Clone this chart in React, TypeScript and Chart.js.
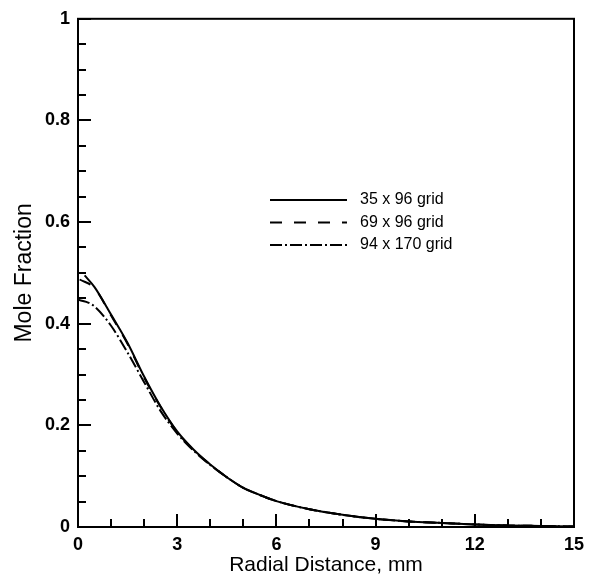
import React, { useEffect, useRef } from "react";
import { Chart, registerables } from "chart.js";

Chart.register(...registerables);

const seriesLabels = ["35 x 96 grid", "69 x 96 grid", "94 x 170 grid"];

const x35 = [0.2, 0.5, 1, 1.5, 2, 2.5, 3, 3.5, 4, 4.5, 5, 5.5, 6, 7, 8, 9, 10, 11, 12, 13, 14, 15];
const y35 = [0.495, 0.472, 0.418, 0.362, 0.296, 0.237, 0.188, 0.152, 0.123, 0.098, 0.077, 0.063, 0.051, 0.035, 0.024, 0.016, 0.011, 0.008, 0.005, 0.003, 0.002, 0.001];

const x69 = [0.05, 0.5, 1, 1.5, 2, 2.5, 3, 3.5, 4, 4.5, 5, 5.5, 6, 7, 8, 9, 10, 11, 12, 13, 14, 15];
const y69 = [0.487, 0.47, 0.416, 0.36, 0.294, 0.236, 0.187, 0.151, 0.123, 0.098, 0.077, 0.063, 0.051, 0.035, 0.024, 0.016, 0.011, 0.008, 0.005, 0.003, 0.002, 0.001];

const x94 = [0, 0.25, 0.5, 1, 1.5, 2, 2.5, 3, 3.5, 4, 4.5, 5, 5.5, 6, 7, 8, 9, 10, 11, 12, 13, 14, 15];
const y94 = [0.447, 0.443, 0.434, 0.396, 0.343, 0.285, 0.228, 0.184, 0.15, 0.122, 0.098, 0.077, 0.063, 0.051, 0.035, 0.024, 0.016, 0.011, 0.008, 0.005, 0.003, 0.002, 0.001];

const xMajor = [0, 3, 6, 9, 12, 15];
const xMinor = [1, 2, 4, 5, 7, 8, 10, 11, 13, 14];
const yMajor = [0, 0.2, 0.4, 0.6, 0.8, 1];
const yMinor = [0.05, 0.1, 0.15, 0.25, 0.3, 0.35, 0.45, 0.5, 0.55, 0.65, 0.7, 0.75, 0.85, 0.9, 0.95];
const xStep = 3;
const yStep = 0.2;

const xTitle = "Radial Distance, mm";
const yTitle = "Mole Fraction";

const dashes: number[][] = [[], [12, 12], [12, 3, 2, 3]];

const toPoints = (xs: number[], ys: number[]) => xs.map((x, i) => ({ x, y: ys[i] }));

const FONT = "'Liberation Sans', Arial, sans-serif";

const frameAndTicks = {
  id: "frameAndTicks",
  afterDraw(chart: any) {
    const ctx = chart.ctx;
    const { left, right, top, bottom } = chart.chartArea;
    const xs = chart.scales.x;
    const ys = chart.scales.y;
    ctx.save();
    ctx.strokeStyle = "#000";
    ctx.lineWidth = 2;
    ctx.setLineDash([]);
    ctx.strokeRect(left, top, right - left, bottom - top);
    const tick = (vals: number[], len: number, axis: "x" | "y") => {
      vals.forEach((v) => {
        ctx.beginPath();
        if (axis === "x") {
          const px = Math.round(xs.getPixelForValue(v));
          ctx.moveTo(px, bottom);
          ctx.lineTo(px, bottom - len);
        } else {
          const py = Math.round(ys.getPixelForValue(v));
          ctx.moveTo(left, py);
          ctx.lineTo(left + len, py);
        }
        ctx.stroke();
      });
    };
    tick(xMajor, 13, "x");
    tick(xMinor, 8, "x");
    tick(yMajor, 13, "y");
    tick(yMinor, 8, "y");

    // legend
    ctx.font = "16px " + FONT;
    ctx.fillStyle = "#000";
    ctx.textBaseline = "middle";
    ctx.textAlign = "left";
    chart.data.datasets.forEach((ds: any, i: number) => {
      const y = 200 + i * 22.5;
      ctx.beginPath();
      ctx.setLineDash(ds.borderDash || []);
      ctx.lineWidth = 2;
      ctx.moveTo(270, y);
      ctx.lineTo(347, y);
      ctx.stroke();
      ctx.setLineDash([]);
      ctx.fillText(ds.label, 360, y);
    });
    ctx.restore();
  },
};

export default function App() {
  const ref = useRef<HTMLCanvasElement>(null);
  useEffect(() => {
    if (!ref.current) return;
    const chart = new Chart(ref.current, {
      type: "line",
      data: {
        datasets: [
          { label: seriesLabels[0], data: toPoints(x35, y35), borderDash: dashes[0] },
          { label: seriesLabels[1], data: toPoints(x69, y69), borderDash: dashes[1] },
          { label: seriesLabels[2], data: toPoints(x94, y94), borderDash: dashes[2] },
        ].map((d) => ({
          ...d,
          borderColor: "#000",
          backgroundColor: "#000",
          borderWidth: 2,
          pointRadius: 0,
          fill: false,
          cubicInterpolationMode: "monotone" as const,
        })),
      },
      options: {
        animation: false,
        responsive: false,
        maintainAspectRatio: false,
        layout: { padding: { left: 0, top: 14, right: 27, bottom: 0 } },
        plugins: { legend: { display: false }, tooltip: { enabled: false } },
        scales: {
          x: {
            type: "linear",
            min: 0,
            max: 15,
            grid: { display: false, drawTicks: false },
            border: { display: false },
            afterFit: (s: any) => {
              s.height = 52;
            },
            ticks: {
              stepSize: xStep,
              color: "#000",
              padding: 7,
              maxRotation: 0,
              minRotation: 0,
              autoSkip: false,
              font: { family: FONT, size: 18, weight: "bold" },
            },
            title: {
              display: true,
              text: xTitle,
              color: "#000",
              padding: { top: 0, bottom: 3 },
              font: { family: FONT, size: 21, lineHeight: 1 },
            },
          },
          y: {
            type: "linear",
            min: 0,
            max: 1,
            grid: { display: false, drawTicks: false },
            border: { display: false },
            afterFit: (s: any) => {
              s.width = 78;
            },
            ticks: {
              stepSize: yStep,
              color: "#000",
              padding: 8,
              autoSkip: false,
              callback: (v: any) => String(Math.round(Number(v) * 10) / 10),
              font: { family: FONT, size: 18, weight: "bold" },
            },
            title: {
              display: true,
              text: yTitle,
              color: "#000",
              padding: { top: 11, bottom: 0 },
              font: { family: FONT, size: 23 },
            },
          },
        },
      },
      plugins: [frameAndTicks],
    });
    return () => chart.destroy();
  }, []);
  return (
    <div style={{ position: "fixed", left: 0, top: 0, width: 601, height: 579, background: "#fff" }}>
      <canvas ref={ref} width={601} height={579} style={{ width: 601, height: 579, display: "block" }} />
    </div>
  );
}
